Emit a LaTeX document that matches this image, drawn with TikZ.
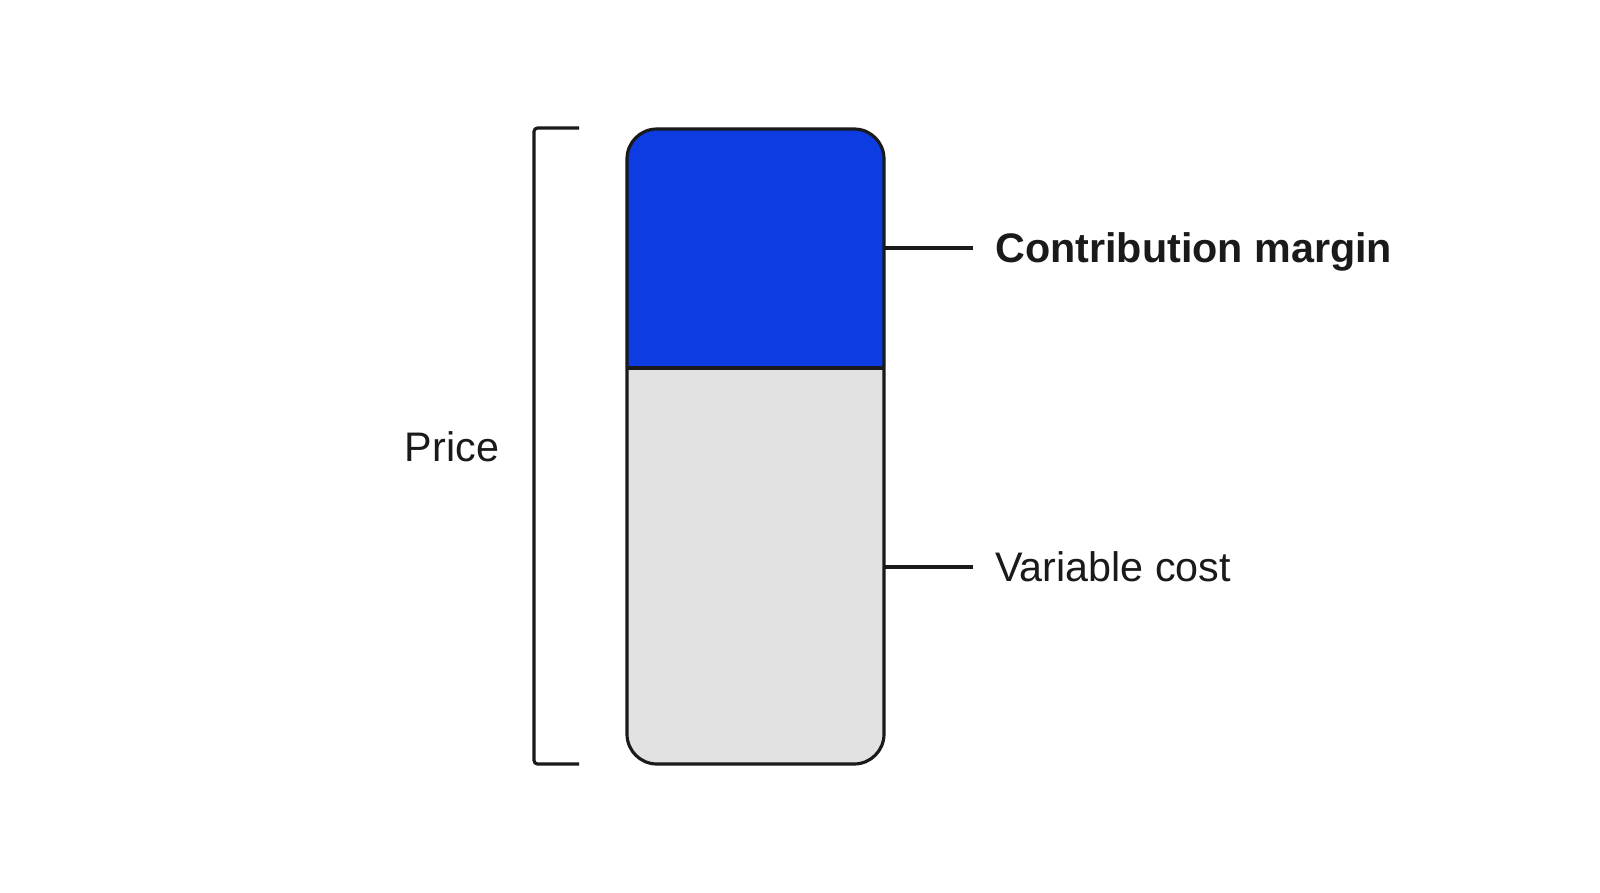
\documentclass[tikz,border=0pt]{standalone}
\usepackage{fontspec}
\setmainfont{Liberation Sans}
\usetikzlibrary{positioning}

\definecolor{marginblue}{HTML}{0C3CE2}
\definecolor{costgrey}{HTML}{E2E2E2}
\definecolor{inkgrey}{HTML}{1A1A1A}

\tikzset{
  outline/.style={line width=1.8pt, draw=inkgrey},
  leader/.style={line width=1.8pt, draw=inkgrey},
  label/.style={font=\fontsize{23.5}{27}\selectfont, text=inkgrey, inner sep=0pt, text height=16.5pt, text depth=0pt},
}

\begin{document}
\begin{tikzpicture}[x=0.02cm, y=-0.02cm]
    \useasboundingbox[fill=white] (0,0) rectangle (1600,893);

    % bar
    \fill[marginblue] (627,368) [rounded corners=17pt] -- (627,129) -- (884,129) [sharp corners] -- (884,368) -- cycle;
    \fill[costgrey] (884,368) [rounded corners=17pt] -- (884,764) -- (627,764) [sharp corners] -- (627,368) -- cycle;
    \draw[outline, rounded corners=17pt] (627,129) rectangle (884,764);
    \draw[outline] (627,368) -- (884,368);

    % bracket
    \draw[outline, rounded corners=2pt] (579,128) -- (534,128) -- (534,764) -- (579,764);
    \node[label] (price) at (452,447) {Price};

    % Contribution margin
    \coordinate (cmfrom) at (884,248);
    \coordinate (cmto) at (973,248);
    \node[label, font=\fontsize{23.5}{27}\selectfont\bfseries, right=22 of cmto] (cm) {Contribution margin};
    \draw[leader] (cmfrom) -- (cmto);

    % Variable cost
    \coordinate (vcfrom) at (884,567);
    \coordinate (vcto) at (973,567);
    \node[label, right=22 of vcto] (vc) {Variable cost};
    \draw[leader] (vcfrom) -- (vcto);
\end{tikzpicture}
\end{document}
